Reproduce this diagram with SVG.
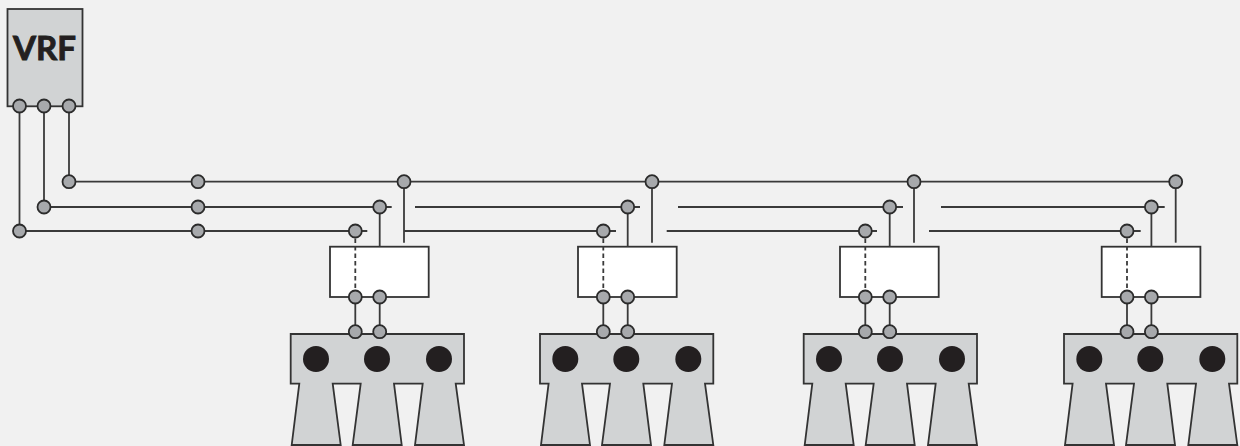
<svg xmlns="http://www.w3.org/2000/svg" width="1240" height="446" viewBox="0 0 1240 446">
<style>
.bg{fill:#f1f1f1}
.unit{fill:#d1d3d4;stroke:#333;stroke-width:1.8}
.box{fill:#fff;stroke:#333;stroke-width:1.8}
.dot{fill:#231f20}
.p{fill:#a7a9ac;stroke:#2b2b2b;stroke-width:1.8}
.l{stroke:#3a3a3a;stroke-width:1.8;fill:none}
.dash{stroke-dasharray:4.5 3}
text{font-family:Lato,"Liberation Sans",sans-serif;font-weight:700;font-size:32px;fill:#231f20;stroke:#231f20;stroke-width:.9}
</style>
<defs>
<g id="ind">
<path class="unit" d="M290.7 334H464V383.7H455.7L464 445H415L422.7 383.7H394L401.7 445H352.7L360.7 383.7H332.7L340.7 445H291.7L299.3 383.7H290.7Z"/>
<circle class="dot" cx="316" cy="359" r="13"/><circle class="dot" cx="377" cy="359" r="13"/><circle class="dot" cx="439" cy="359" r="13"/>
</g>
<g id="ports">
<circle class="p" cx="355.3" cy="231" r="6.5"/><circle class="p" cx="379.7" cy="207" r="6.5"/><circle class="p" cx="404" cy="181.7" r="6.5"/>
<circle class="p" cx="355.3" cy="297" r="6.5"/><circle class="p" cx="379.7" cy="297" r="6.5"/>
<circle class="p" cx="355.3" cy="331.7" r="6.5"/><circle class="p" cx="379.7" cy="331.7" r="6.5"/>
</g>
<g id="links">
<line class="l" x1="404" y1="181.7" x2="404" y2="242.7"/>
<line class="l" x1="379.7" y1="207" x2="379.7" y2="246.7"/>
<line class="l dash" x1="355.3" y1="231" x2="355.3" y2="297"/>
<line class="l" x1="355.3" y1="297" x2="355.3" y2="331.7"/>
<line class="l" x1="379.7" y1="297" x2="379.7" y2="331.7"/>
</g>
</defs>
<rect class="bg" width="1240" height="446"/>
<g id="indoor-1"><use href="#ind"/></g>
<g id="indoor-2"><use href="#ind" transform="translate(249.3 0)"/></g>
<g id="indoor-3"><use href="#ind" transform="translate(513 0)"/></g>
<g id="indoor-4"><use href="#ind" transform="translate(773.3 0)"/></g>
<g id="branch-1"><rect class="box" x="330" y="246.7" width="98.7" height="50.3"/></g>
<g id="branch-2"><rect class="box" x="578" y="246.7" width="98.7" height="50.3"/></g>
<g id="branch-3"><rect class="box" x="840" y="246.7" width="98.7" height="50.3"/></g>
<g id="branch-4"><rect class="box" x="1101.7" y="246.7" width="98.7" height="50.3"/></g>
<g id="vrf"><rect class="unit" x="7.5" y="9" width="75" height="97.3"/><text x="44.5" y="59.5" text-anchor="middle" textLength="63" lengthAdjust="spacingAndGlyphs">VRF</text></g>
<g id="connectors">
<line class="l" x1="19.5" y1="106" x2="19.5" y2="231"/>
<line class="l" x1="44" y1="106" x2="44" y2="207"/>
<line class="l" x1="69" y1="106" x2="69" y2="181.7"/>
<line class="l" x1="69" y1="181.7" x2="1175" y2="181.7"/>
<line class="l" x1="44" y1="207" x2="391.7" y2="207"/>
<line class="l" x1="415" y1="207" x2="640" y2="207"/>
<line class="l" x1="678" y1="207" x2="903" y2="207"/>
<line class="l" x1="941" y1="207" x2="1164.7" y2="207"/>
<line class="l" x1="19.5" y1="231" x2="367.3" y2="231"/>
<line class="l" x1="404" y1="231" x2="616" y2="231"/>
<line class="l" x1="666.7" y1="231" x2="877" y2="231"/>
<line class="l" x1="929" y1="231" x2="1140.7" y2="231"/>
<use href="#links"/>
<use href="#links" transform="translate(248 0)"/>
<use href="#links" transform="translate(510 0)"/>
<use href="#links" transform="translate(771.7 0)"/>
</g>
<g id="vrf-ports">
<circle class="p" cx="19.5" cy="106" r="6.5"/><circle class="p" cx="44" cy="106" r="6.5"/><circle class="p" cx="69" cy="106" r="6.5"/>
<circle class="p" cx="69" cy="181.7" r="6.5"/><circle class="p" cx="44" cy="207" r="6.5"/><circle class="p" cx="19.5" cy="231" r="6.5"/>
</g>
<g id="mid-ports">
<circle class="p" cx="198" cy="181.7" r="6.5"/><circle class="p" cx="198" cy="207" r="6.5"/><circle class="p" cx="198" cy="231" r="6.5"/>
</g>
<g id="ports-1"><use href="#ports"/></g>
<g id="ports-2"><use href="#ports" transform="translate(248 0)"/></g>
<g id="ports-3"><use href="#ports" transform="translate(510 0)"/></g>
<g id="ports-4"><use href="#ports" transform="translate(771.7 0)"/></g>
</svg>
